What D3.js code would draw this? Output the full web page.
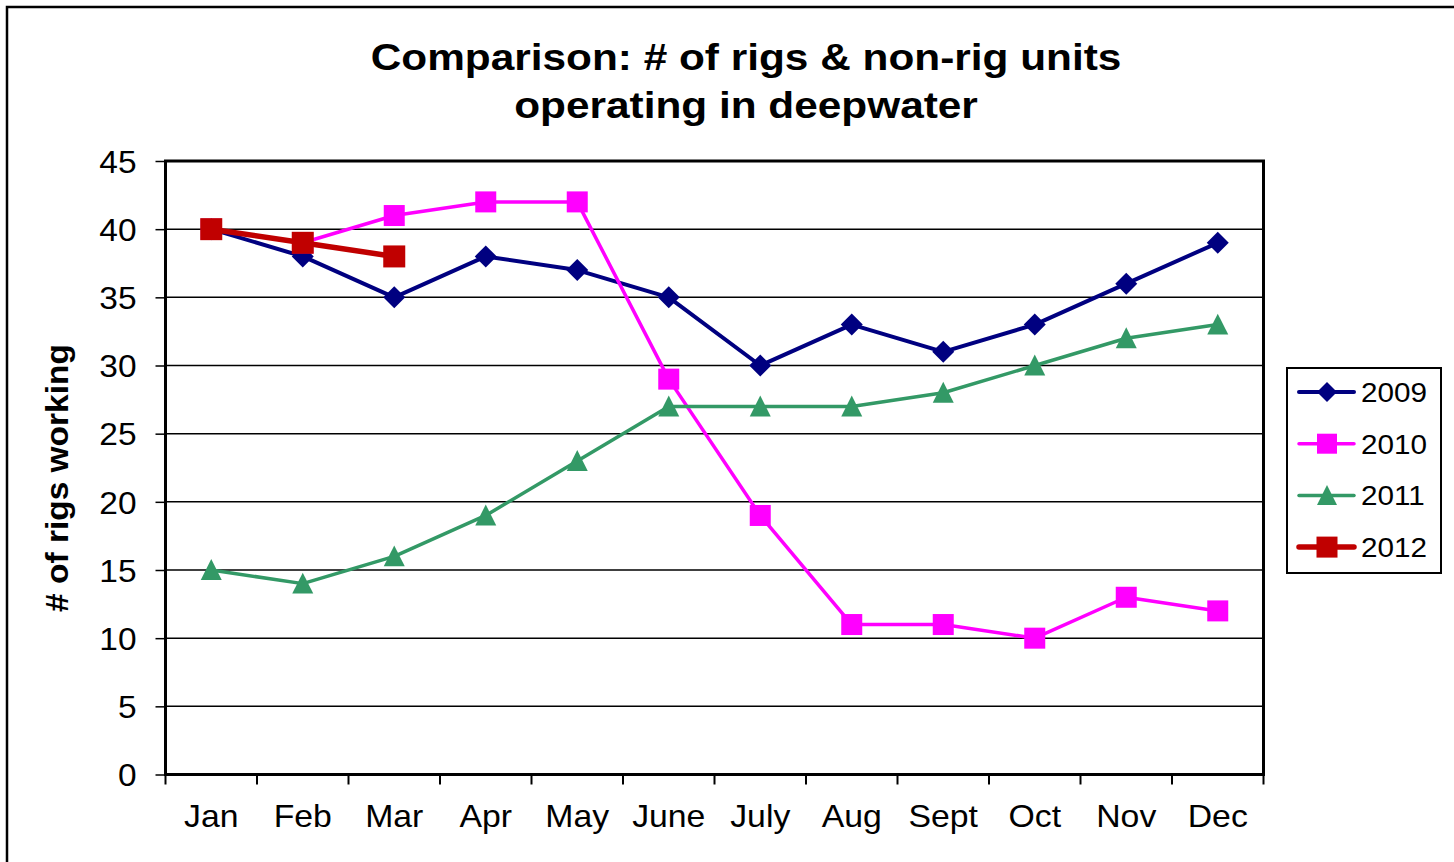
<!DOCTYPE html>
<html><head><meta charset="utf-8">
<script src="https://cdn.jsdelivr.net/npm/d3@7"></script>
<style>body{margin:0;background:#fff}svg{display:block;font-family:Arial,"Liberation Sans",sans-serif}</style>
</head><body>
<script>
const months = ["Jan","Feb","Mar","Apr","May","June","July","Aug","Sept","Oct","Nov","Dec"];
const yTicks = [0,5,10,15,20,25,30,35,40,45];
const s2009 = [40,38,35,38,37,35,30,33,31,33,36,39];
const s2010 = [40,39,41,42,42,29,19,11,11,10,13,12];
const s2011 = [15,14,16,19,23,27,27,27,28,30,32,33];
const s2012 = [40,39,38];
const seriesNames = ["2009","2010","2011","2012"];
const seriesColors = ["#000080","#FF00FF","#339966","#C00000"];
const seriesShapes = ["diamond","square","triangle","square"];

const series = [s2009,s2010,s2011,s2012].map((v,i)=>({name:seriesNames[i],values:v,color:seriesColors[i],shape:seriesShapes[i]}));

const W=1454,H=862;
const FONT="Arial,'Liberation Sans',sans-serif";
const svg=d3.select("body").append("svg").attr("width",W).attr("height",H);
svg.append("rect").attr("x",7).attr("y",7).attr("width",W+10).attr("height",H+10).attr("fill","#fff").attr("stroke","#000").attr("stroke-width",2.5);

const L=165.5,R=1263.5,T=161,B=774.5;
const x=d3.scaleBand().domain(months).range([L,R]);
const y=d3.scaleLinear().domain([0,45]).range([B,T]);

// gridlines
svg.append("g").selectAll("line").data(yTicks.filter(d=>d>0)).join("line")
 .attr("x1",L).attr("x2",R).attr("y1",d=>y(d)).attr("y2",d=>y(d)).attr("stroke","#000").attr("stroke-width",1.5);

// y axis
const ya=svg.append("g").attr("transform",`translate(${L},0)`).call(d3.axisLeft(y).tickValues(yTicks).tickSize(10));
ya.select(".domain").remove();
ya.selectAll(".tick line").attr("stroke","#000").attr("stroke-width",1.5);
ya.selectAll(".tick text").attr("x",0).attr("dy","0.36em").attr("transform","translate(-29,0) scale(1.08,1)")
  .attr("font-size",31).attr("fill","#000").attr("font-family",FONT);

// x axis
const xa=svg.append("g").attr("transform",`translate(0,${B})`).call(d3.axisBottom(x).tickSize(0));
xa.select(".domain").remove();
xa.selectAll(".tick text").attr("y",0).attr("dy",0).attr("transform","translate(0,52) scale(1.09,1)")
  .attr("font-size",31).attr("fill","#000").attr("font-family",FONT);
// boundary ticks
const bounds=months.map(m=>x(m)).concat([R]);
svg.append("g").selectAll("line").data(bounds).join("line")
 .attr("x1",d=>d).attr("x2",d=>d).attr("y1",B).attr("y2",B+10).attr("stroke","#000").attr("stroke-width",2);

// plot frame
svg.append("rect").attr("x",L).attr("y",T).attr("width",R-L).attr("height",B-T).attr("fill","none").attr("stroke","#000").attr("stroke-width",3);

const cx=m=>x(m)+x.bandwidth()/2;
const line=d3.line().x((d,i)=>cx(months[i])).y(d=>y(d));

function marker(g,shape,color,px,py,s){
  if(shape==="diamond"){
    g.append("path").attr("d",`M${px},${py-s/2}L${px+s/2},${py}L${px},${py+s/2}L${px-s/2},${py}Z`).attr("fill",color);
  } else if(shape==="square"){
    g.append("rect").attr("x",px-s/2).attr("y",py-s/2).attr("width",s).attr("height",s).attr("fill",color);
  } else {
    const h=s*0.95;
    g.append("path").attr("d",`M${px},${py-h/2-1}L${px+s/2},${py+h/2}L${px-s/2},${py+h/2}Z`).attr("fill",color);
  }
}
const sizes={"2009":22,"2010":21,"2011":21,"2012":22};
const lsizes={"2009":20,"2010":20,"2011":20,"2012":21};
const widths={"2009":4,"2010":3.5,"2011":3.5,"2012":5.5};

series.forEach(s=>{
  const g=svg.append("g");
  g.append("path").attr("d",line(s.values)).attr("fill","none").attr("stroke",s.color).attr("stroke-width",widths[s.name]).attr("stroke-linejoin","round");
  s.values.forEach((v,i)=>marker(g,s.shape,s.color,cx(months[i]),y(v),sizes[s.name]));
});

// title
const tt=svg.append("g").attr("transform","translate(746,0) scale(1.145,1)");
tt.append("text").attr("x",0).attr("y",70).attr("text-anchor","middle").attr("font-size",37).attr("font-weight","bold").attr("fill","#000").text("Comparison: # of rigs & non-rig units");
tt.append("text").attr("x",0).attr("y",118).attr("text-anchor","middle").attr("font-size",37).attr("font-weight","bold").attr("fill","#000").text("operating in deepwater");

// y label
svg.append("text").attr("transform",`translate(68,478) rotate(-90) scale(1.08,1)`).attr("text-anchor","middle")
 .attr("font-size",31).attr("font-weight","bold").attr("fill","#000").text("# of rigs working");

// legend
const lg=svg.append("g");
lg.append("rect").attr("x",1287).attr("y",368).attr("width",154).attr("height",205).attr("fill","#fff").attr("stroke","#000").attr("stroke-width",2);
series.forEach((s,i)=>{
  const yy=392+i*51.7;
  lg.append("line").attr("x1",1299).attr("x2",1354).attr("y1",yy).attr("y2",yy).attr("stroke",s.color).attr("stroke-width",widths[s.name]).attr("stroke-linecap","round");
  marker(lg,s.shape,s.color,1327,yy,lsizes[s.name]);
  lg.append("text").attr("transform",`translate(1361,${yy+10}) scale(1.06,1)`).attr("font-size",28).attr("fill","#000").text(s.name);
});
</script>
</body></html>
